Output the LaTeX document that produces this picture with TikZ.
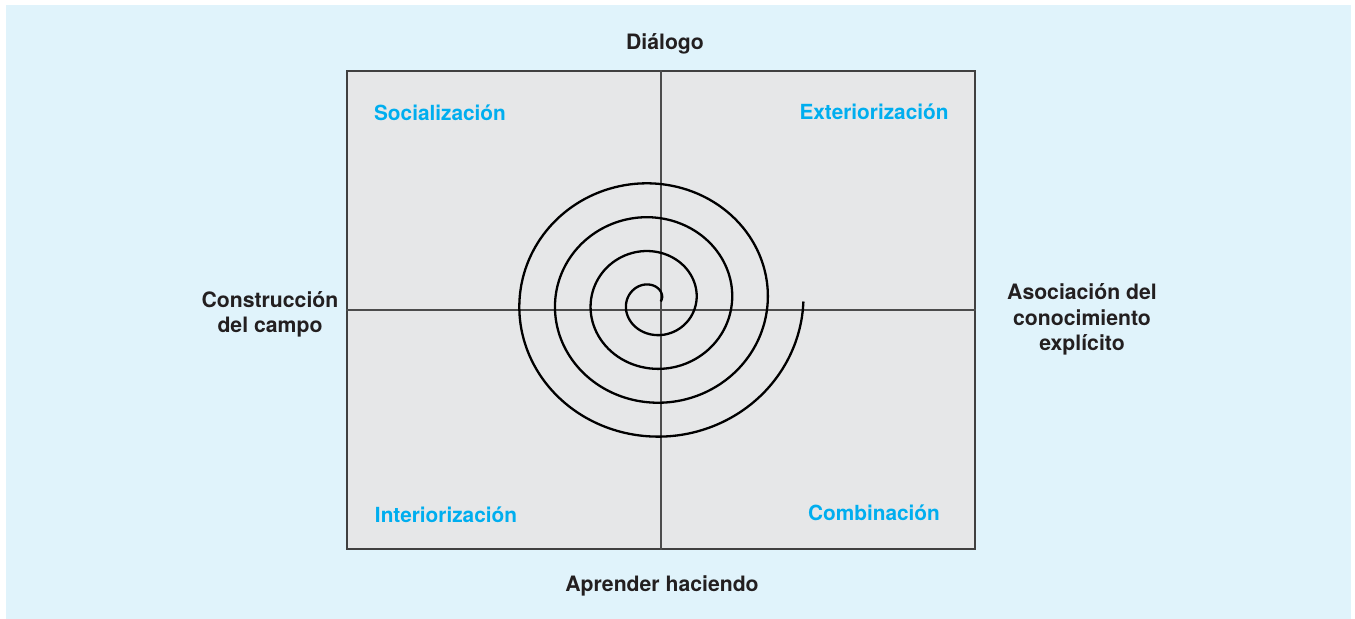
\documentclass[tikz,border=0pt]{standalone}
\usepackage{fontspec}
\setmainfont{TeX Gyre Heros}
\usepackage{tikz}
\definecolor{fondo}{RGB}{224,243,251}
\definecolor{cuadro}{RGB}{230,231,232}
\definecolor{cian}{RGB}{0,174,239}
\definecolor{texto}{RGB}{35,31,32}
\tikzset{
  etiqueta/.style={font=\bfseries\fontsize{10.6}{12.8}\selectfont, text=texto, align=center, inner sep=0pt},
  modo/.style={font=\bfseries\fontsize{10.4}{12}\selectfont, text=cian, inner sep=0pt},
  eje/.style={line width=0.6pt, black!70},
}

\begin{document}
\begin{tikzpicture}[x=0.5pt,y=-0.5pt]
		
		\useasboundingbox (0,0) rectangle (1355,619);
		\fill[fondo] (6,5) rectangle (1351,619);
		
		\node[draw=black!75, line width=0.8pt, fill=cuadro, minimum width=314pt, minimum height=239pt, inner sep=0pt] (box) at (661,310) {};
		\draw[eje] (box.north) -- (box.south);
		\draw[eje] (box.west) -- (box.east);
		
		
		\draw[line width=1.15pt, black] plot[domain=0:1440, samples=400, smooth, variable=\t]
		  ({652.5+(8+0.0972*\t)*1.02*cos(\t)}, {301.5-(8+0.0972*\t)*0.97*sin(\t)});
		
		
		\node[modo, anchor=base] (soc) at (440,121) {Socialización};
		\node[modo, anchor=base] (ext) at (874,120) {Exteriorización};
		\node[modo, anchor=base] (int) at (446,523) {Interiorización};
		\node[modo, anchor=base] (com) at (874,521) {Combinación};
		
		\node[etiqueta, anchor=base] (dia) at (665,50) {Diálogo};
		\node[etiqueta, anchor=base] (apr) at (662,592) {Aprender haciendo};
		\node[etiqueta, anchor=base] (con) at (270,333) {Construcción\\del campo};
		\node[etiqueta, anchor=base] (aso) at (1082,351) {Asociación del\\conocimiento\\explícito};
	\end{tikzpicture}
\end{document}
